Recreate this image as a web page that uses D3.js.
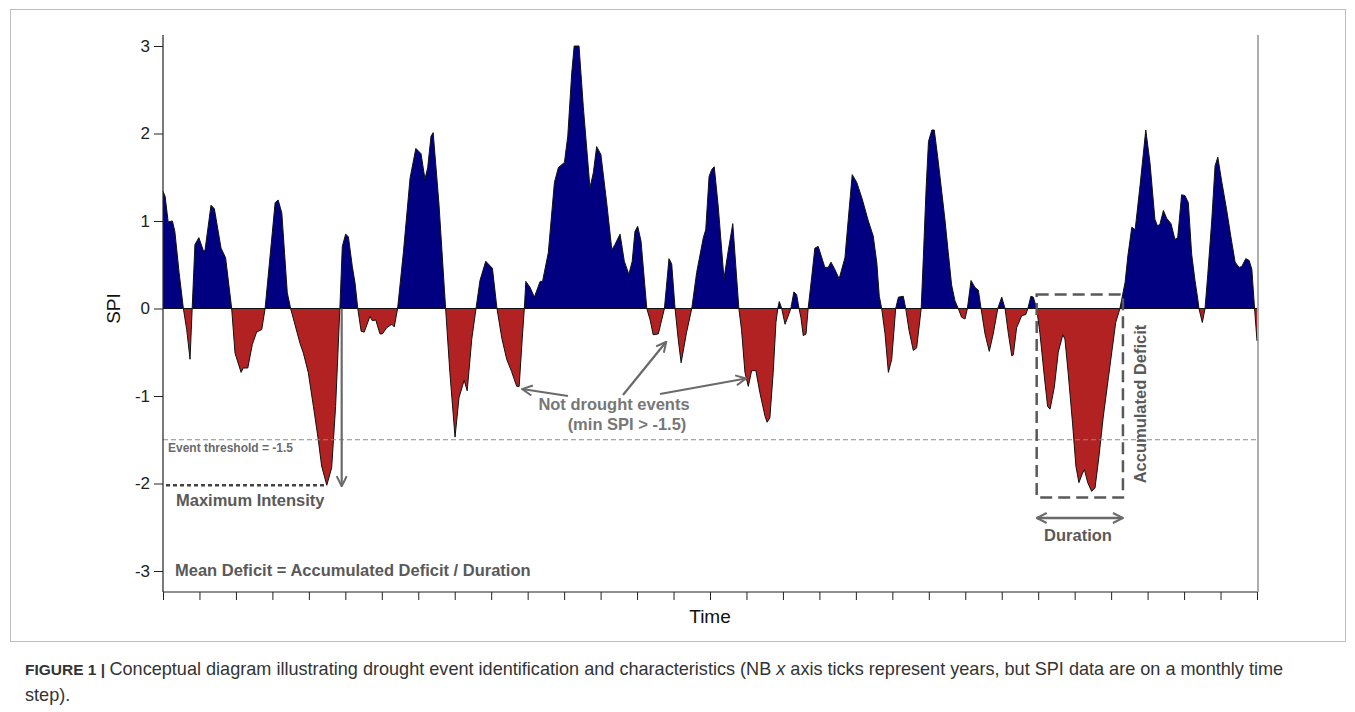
<!DOCTYPE html>
<html>
<head>
<meta charset="utf-8">
<script src="https://cdn.jsdelivr.net/npm/d3@7"></script>
<style>
  body { margin: 0; background: #fff; }
  svg { display: block; font-family: Arial, "Liberation Sans", sans-serif; }
</style>
</head>
<body>
<svg id="chart" width="1355" height="712"></svg>
<script>
// month index (0 = start of first year) and SPI value
var month = [0, 0.7, 1.7, 3.1, 3.9, 5.3, 6.7, 7.8, 8.9, 9.6, 10.5, 11.8, 13.3, 13.8, 15.8, 16.9, 19.1, 20.6, 22.6, 23.7,
  25.7, 26.4, 27.9, 29.4, 30.8, 32.5, 33.6, 36.9, 37.9, 39.1, 40.9, 42.0, 45.1, 46.2, 47.8, 49.5, 51.1, 52.2, 53.9, 55.5,
  56.8, 58.2, 59.0, 60.1, 61.0, 62.3, 63.2, 64.1, 65.2, 66.2, 68.1, 68.9, 70.0, 71.4, 72.2, 73.6, 75.3, 76.1, 77.2, 79.1,
  81.3, 83.2, 84.9, 86.2, 87.1, 88.2, 88.9, 90.8, 93.0, 94.4, 96.1, 97.4, 99.1, 100.1, 101.6, 103.0, 104.3, 106.2, 108.4, 109.9,
  111.5, 113.1, 114.7, 116.4, 117.2, 118.2, 118.9, 119.4, 120.8, 122.2, 124.1, 124.9, 126.8, 128.8, 130.1, 132.1, 133.2, 134.5, 135.3, 136.9,
  138.3, 140.5, 141.6, 142.7, 144.1, 146.0, 147.7, 148.7, 150.4, 151.8, 153.3, 154.4, 155.3, 156.2, 157.3, 159.2, 160.3, 161.3, 163.0, 165.0,
  166.5, 167.4, 168.5, 169.6, 170.5, 172.3, 174.0, 175.6, 177.8, 178.6, 179.7, 180.6, 181.4, 182.7, 184.6, 186.0, 187.5, 188.5, 189.5, 190.4,
  191.5, 192.6, 193.7, 195.1, 196.4, 198.1, 198.8, 199.7, 200.8, 201.7, 202.3, 202.8, 203.6, 204.7, 206.0, 206.6, 207.6, 208.5, 209.3, 209.9,
  210.7, 211.6, 212.3, 213.5, 214.5, 215.6, 217.8, 218.9, 219.8, 220.9, 222.5, 224.4, 225.5, 226.8, 228.3, 230.1, 232.1, 233.7, 234.9, 235.7,
  236.5, 237.6, 238.7, 239.8, 241.1, 242.0, 243.6, 244.4, 245.5, 246.9, 248.0, 249.5, 250.2, 251.1, 251.9, 253.0, 253.8, 254.9, 256.3, 257.3,
  258.4, 259.5, 260.6, 261.7, 262.8, 263.9, 264.7, 265.9, 267.2, 268.3, 269.2, 270.5, 271.9, 273.2, 274.7, 276.0, 277.1, 278.2, 279.3, 279.8,
  280.9, 282.6, 283.9, 284.6, 285.6, 286.4, 287.5, 288.6, 290.0, 291.1, 291.9, 293.3, 294.6, 296.1, 296.8, 297.9, 299.3, 300.4, 301.4, 302.5,
  303.2, 304.3, 305.6, 306.7, 308.0, 309.4, 311.1, 312.4, 313.5, 314.9, 316.6, 317.5, 318.8, 319.9, 321.5, 323.4, 324.8, 326.4, 327.3, 328.1,
  329.2, 330.3, 331.7, 333.0, 333.9, 335.2, 336.3, 337.4, 338.5, 339.6, 340.5, 340.9, 342.0, 342.9, 343.8, 345.1, 346.2, 347.1, 348.4, 350.0,
  351.4, 352.8, 354.1, 355.0, 356.3, 357.4, 358.3, 359.2, 360];

var spi = [1.34, 1.28, 0.99, 1.0, 0.88, 0.41, 0, -0.24, -0.58, 0, 0.73, 0.81, 0.66, 0.66, 1.18, 1.14, 0.69, 0.58, 0, -0.51,
  -0.73, -0.68, -0.68, -0.41, -0.27, -0.24, 0, 1.21, 1.24, 1.09, 0.18, 0, -0.40, -0.51, -0.73, -1.12, -1.50, -1.80, -2.02, -1.82,
  -1.12, 0, 0.71, 0.85, 0.82, 0.48, 0.29, 0, -0.26, -0.27, -0.09, -0.14, -0.13, -0.29, -0.29, -0.22, -0.18, -0.21, 0, 0.64,
  1.49, 1.83, 1.77, 1.48, 1.61, 1.97, 2.01, 1.2, 0, -0.73, -1.47, -1.02, -0.82, -0.94, -0.35, 0, 0.32, 0.54, 0.46, 0,
  -0.34, -0.58, -0.72, -0.89, -0.89, -0.35, 0, 0.31, 0.24, 0.13, 0.31, 0.31, 0.64, 1.44, 1.61, 1.67, 1.97, 2.69, 3.0, 3.0,
  2.31, 1.38, 1.55, 1.85, 1.76, 1.21, 0.67, 0.73, 0.85, 0.54, 0.39, 0.54, 0.88, 0.94, 0.77, 0, -0.13, -0.30, -0.29, 0,
  0.57, 0.51, 0, -0.37, -0.62, -0.27, 0, 0.41, 0.81, 0.90, 1.51, 1.59, 1.62, 1.17, 0.34, 0.66, 0.97, 0.48, 0, -0.25,
  -0.73, -0.89, -0.71, -0.71, -0.96, -1.23, -1.30, -1.25, -0.73, -0.16, 0, 0.08, 0, -0.18, -0.06, 0, 0.19, 0.16, 0, -0.10,
  -0.31, -0.29, 0, 0.37, 0.69, 0.71, 0.47, 0.47, 0.53, 0.46, 0.34, 0.58, 1.02, 1.53, 1.44, 1.25, 1.0, 0.83, 0.52, 0.14,
  0, -0.29, -0.73, -0.58, 0, 0.13, 0.14, 0, -0.25, -0.48, -0.45, 0, 0.58, 1.36, 1.91, 2.04, 2.04, 1.74, 1.32, 1.02,
  0.64, 0.27, 0.09, 0, -0.10, -0.12, 0, 0.32, 0.24, 0.21, 0, -0.29, -0.49, -0.29, 0, 0.13, 0, -0.29, -0.54, -0.53,
  -0.22, -0.08, -0.07, 0, 0.14, 0.13, 0, -0.29, -0.77, -1.12, -1.15, -0.90, -0.50, -0.30, -0.35, -0.75, -1.31, -1.80, -1.99, -1.89,
  -1.84, -1.99, -2.09, -2.05, -1.69, -1.24, -0.79, -0.45, -0.16, 0, 0.3, 0.6, 0.93, 0.90, 1.40, 2.04, 1.66, 1.02, 0.94, 0.97,
  1.12, 1.03, 0.97, 0.79, 0.81, 1.30, 1.29, 1.21, 0.62, 0.32, 0.11, 0, -0.16, 0, 0.39, 1.0, 1.63, 1.73, 1.45, 1.13,
  0.82, 0.53, 0.47, 0.48, 0.57, 0.55, 0.45, 0, -0.37];

var yTicks = [-3, -2, -1, 0, 1, 2, 3];
var years = d3.range(0, 31);   // x ticks, one per year
var threshold = -1.5;
var maxIntensity = -2.02;
var eventStart = 287.5, eventEnd = 314.9;   // boxed drought event (months)

var svg = d3.select("#chart");
var data = month.map(function(m, i) { return {m: m, v: spi[i]}; });

var x = d3.scaleLinear().domain([0, 360]).range([163, 1257]);
var y = d3.scaleLinear().domain([-3, 3]).range([571, 46]);

var grey = "#595959";
var annoSize = 16.5;

// outer figure frame
svg.append("rect")
  .attr("x", 10.5).attr("y", 9.5).attr("width", 1335).attr("height", 632)
  .attr("fill", "none").attr("stroke", "#bdbdbd").attr("stroke-width", 1);

// clip regions above / below zero
var defs = svg.append("defs");
defs.append("clipPath").attr("id", "above").append("rect")
  .attr("x", x(0)).attr("y", 0).attr("width", x(360) - x(0)).attr("height", y(0));
defs.append("clipPath").attr("id", "below").append("rect")
  .attr("x", x(0)).attr("y", y(0)).attr("width", x(360) - x(0)).attr("height", 600 - y(0));

var area = d3.area()
  .x(function(d) { return x(d.m); })
  .y0(y(0))
  .y1(function(d) { return y(d.v); });

svg.append("path").datum(data)
  .attr("clip-path", "url(#above)")
  .attr("fill", "#000080")
  .attr("d", area);
svg.append("path").datum(data)
  .attr("clip-path", "url(#below)")
  .attr("fill", "#b22222")
  .attr("d", area);

svg.append("path").datum(data)
  .attr("fill", "none")
  .attr("stroke", "#111")
  .attr("stroke-width", 1)
  .attr("stroke-linejoin", "round")
  .attr("d", d3.line().x(function(d) { return x(d.m); }).y(function(d) { return y(d.v); }));

// zero line
svg.append("line")
  .attr("x1", x(0)).attr("x2", x(360)).attr("y1", y(0)).attr("y2", y(0))
  .attr("stroke", "#111").attr("stroke-width", 1.2);

// threshold line
svg.append("line")
  .attr("x1", x(0)).attr("x2", x(360)).attr("y1", y(threshold)).attr("y2", y(threshold))
  .attr("stroke", "#8a8a8a").attr("stroke-width", 1).attr("stroke-dasharray", "5,3");
svg.append("text")
  .attr("x", 168).attr("y", y(threshold) + 12)
  .attr("font-size", 12).attr("font-weight", "bold").attr("fill", "#6a6a6a")
  .text("Event threshold = -1.5");

// axes
var yAxis = svg.append("g")
  .attr("transform", "translate(" + x(0) + ",0)")
  .call(d3.axisLeft(y).tickValues(yTicks).tickSize(9).tickPadding(4).tickFormat(function(d) { return String(d); }));
yAxis.select(".domain").remove();
yAxis.selectAll("text").attr("font-size", 17).attr("fill", "#222");
yAxis.selectAll("line").attr("stroke", "#222");

var xAxis = svg.append("g")
  .attr("transform", "translate(0,592)")
  .call(d3.axisBottom(x).tickValues(years.map(function(yr) { return yr * 12; })).tickSize(8).tickFormat(""));
xAxis.select(".domain").remove();
xAxis.selectAll("line").attr("stroke", "#222");

svg.append("line").attr("x1", x(0)).attr("x2", x(0)).attr("y1", 35).attr("y2", 592)
  .attr("stroke", "#222").attr("stroke-width", 1.2);
svg.append("line").attr("x1", x(0)).attr("x2", x(360)).attr("y1", 592).attr("y2", 592)
  .attr("stroke", "#222").attr("stroke-width", 1.2);
svg.append("line").attr("x1", x(360) + 1).attr("x2", x(360) + 1).attr("y1", 35).attr("y2", 592)
  .attr("stroke", "#777").attr("stroke-width", 1.2);

svg.append("text")
  .attr("transform", "translate(120," + y(0) + ") rotate(-90)")
  .attr("text-anchor", "middle").attr("font-size", 19).attr("fill", "#111")
  .text("SPI");
svg.append("text")
  .attr("x", 710).attr("y", 623)
  .attr("text-anchor", "middle").attr("font-size", 19).attr("fill", "#111")
  .text("Time");

// arrow markers
defs.append("marker").attr("id", "head")
  .attr("viewBox", "0 0 12 12").attr("refX", 11).attr("refY", 6)
  .attr("markerWidth", 12).attr("markerHeight", 12).attr("markerUnits", "userSpaceOnUse")
  .attr("orient", "auto-start-reverse")
  .append("path").attr("d", "M1,1 L11,6 L1,11")
  .attr("fill", "none").attr("stroke", "#6a6a6a").attr("stroke-width", 2);

// maximum intensity
svg.append("line")
  .attr("x1", x(0) + 3).attr("x2", x(53.9)).attr("y1", y(maxIntensity)).attr("y2", y(maxIntensity))
  .attr("stroke", "#444").attr("stroke-width", 2.5).attr("stroke-dasharray", "4,3");
svg.append("line")
  .attr("x1", x(58.8)).attr("x2", x(58.8)).attr("y1", y(0)).attr("y2", y(maxIntensity) + 1)
  .attr("stroke", "#6a6a6a").attr("stroke-width", 2.2).attr("marker-end", "url(#head)");
svg.append("text")
  .attr("x", 176).attr("y", 506)
  .attr("font-size", annoSize).attr("font-weight", "bold").attr("fill", grey)
  .text("Maximum Intensity");
svg.append("text")
  .attr("x", 175).attr("y", 576)
  .attr("font-size", annoSize).attr("font-weight", "bold").attr("fill", grey)
  .text("Mean Deficit = Accumulated Deficit / Duration");

// not drought events
svg.append("text")
  .attr("x", 614).attr("y", 410).attr("text-anchor", "middle")
  .attr("font-size", annoSize).attr("font-weight", "bold").attr("fill", "#777")
  .text("Not drought events");
svg.append("text")
  .attr("x", 627).attr("y", 430).attr("text-anchor", "middle")
  .attr("font-size", annoSize).attr("font-weight", "bold").attr("fill", "#777")
  .text("(min SPI > -1.5)");
[[568, 396, x(118.2), y(-0.92)], [623, 395, x(165.6), y(-0.38)], [660, 394, x(191.8), y(-0.80)]].forEach(function(a) {
  svg.append("line")
    .attr("x1", a[0]).attr("y1", a[1]).attr("x2", a[2]).attr("y2", a[3])
    .attr("stroke", "#6a6a6a").attr("stroke-width", 2.2).attr("marker-end", "url(#head)");
});

// boxed event
svg.append("rect")
  .attr("x", x(eventStart)).attr("y", y(0.16))
  .attr("width", x(eventEnd) - x(eventStart) + 3).attr("height", y(-2.16) - y(0.16))
  .attr("fill", "none").attr("stroke", grey).attr("stroke-width", 2.5).attr("stroke-dasharray", "12,6");
svg.append("text")
  .attr("transform", "translate(1146,404) rotate(-90)")
  .attr("text-anchor", "middle").attr("font-size", annoSize).attr("font-weight", "bold").attr("fill", grey)
  .text("Accumulated Deficit");
svg.append("line")
  .attr("x1", x(eventStart)).attr("x2", x(eventEnd) + 3).attr("y1", 518).attr("y2", 518)
  .attr("stroke", "#6a6a6a").attr("stroke-width", 2.5)
  .attr("marker-start", "url(#head)").attr("marker-end", "url(#head)");
svg.append("text")
  .attr("x", 1078).attr("y", 541).attr("text-anchor", "middle")
  .attr("font-size", annoSize).attr("font-weight", "bold").attr("fill", grey)
  .text("Duration");

// caption
var cap = svg.append("text").attr("x", 25).attr("y", 675).attr("font-size", 18.1).attr("fill", "#333");
cap.append("tspan").attr("font-weight", "bold").attr("font-size", 15.5).text("FIGURE 1 | ");
cap.append("tspan").text("Conceptual diagram illustrating drought event identification and characteristics (NB ");
cap.append("tspan").attr("font-style", "italic").text("x");
cap.append("tspan").text(" axis ticks represent years, but SPI data are on a monthly time");
svg.append("text").attr("x", 25).attr("y", 701).attr("font-size", 18.1).attr("fill", "#333").text("step).");
</script>
</body>
</html>
